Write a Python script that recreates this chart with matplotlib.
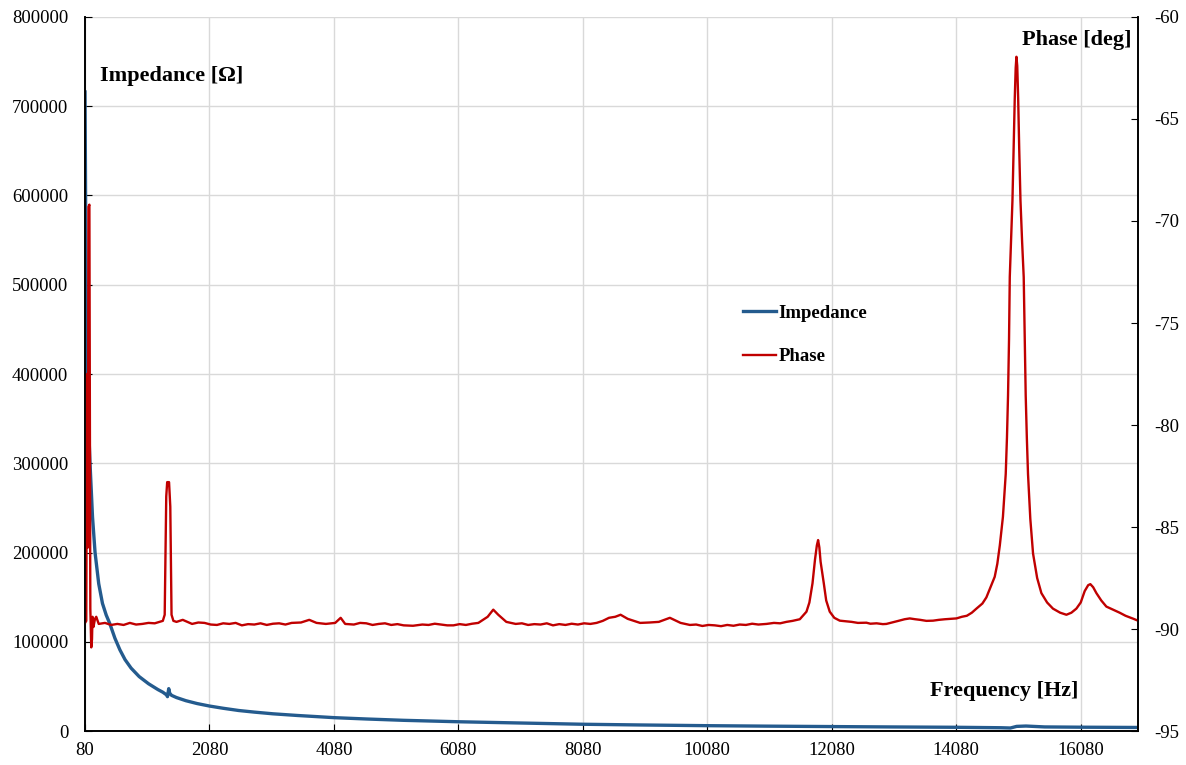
import matplotlib
matplotlib.use("Agg")
import matplotlib.pyplot as plt

plt.rcParams["font.family"] = ["Liberation Serif", "DejaVu Serif"]
plt.rcParams["axes.unicode_minus"] = False

# impedance curve
imp_freq = [80, 90, 100, 115, 135, 160, 200, 241, 300, 360, 420, 480, 560,
            640, 723, 820, 950, 1100, 1250, 1330, 1390, 1405, 1425, 1440,
            1470, 1550, 1700, 1880, 2080, 2300, 2550, 2800, 3100, 3500, 4080,
            4600, 5200, 6080, 7000, 8080, 9000, 10080, 11000, 12080, 13000,
            14080, 14800, 14950, 15050, 15200, 15500, 16080, 17000]
impedance = [716000, 580000, 480000, 400000, 345000, 300000, 240000, 200000,
             165000, 143000, 130000, 120000, 104000, 91000, 80000, 70500,
             61000, 53000, 46500, 43500, 40500, 38500, 47500, 42500, 40000,
             37500, 34000, 30800, 28000, 25500, 23000, 21200, 19300, 17400,
             15000, 13500, 12000, 10400, 9100, 7600, 6800, 6000, 5500, 5000,
             4600, 4200, 3700, 3400, 5200, 5600, 4600, 4300, 4000]

# phase curve, (Hz, deg)
phase_points = [
    (80, -89.7), (100, -89.6), (112, -77.5), (120, -80.0), (128, -86.0),
    (135, -69.3), (150, -69.2), (165, -89.0), (180, -90.9), (192, -90.5),
    (200, -89.4), (215, -89.9), (240, -89.5), (260, -89.4), (300, -89.75),
    (400, -89.7), (500, -89.8), (600, -89.75), (700, -89.8), (800, -89.7),
    (900, -89.78), (1000, -89.75), (1100, -89.7), (1200, -89.72),
    (1330, -89.6), (1360, -89.3), (1385, -83.5), (1400, -82.8),
    (1430, -82.8), (1450, -84.0), (1470, -89.3), (1500, -89.6),
    (1550, -89.65), (1650, -89.55), (1800, -89.75), (1900, -89.68),
    (2000, -89.7), (2100, -89.78), (2200, -89.8), (2300, -89.72),
    (2400, -89.75), (2500, -89.7), (2600, -89.82), (2700, -89.76),
    (2800, -89.78), (2900, -89.72), (3000, -89.8), (3100, -89.74),
    (3200, -89.72), (3300, -89.78), (3400, -89.7), (3550, -89.68),
    (3683, -89.55), (3800, -89.7), (3950, -89.75), (4100, -89.7),
    (4188, -89.45), (4260, -89.75), (4400, -89.78), (4500, -89.7),
    (4600, -89.72), (4700, -89.8), (4800, -89.75), (4900, -89.72),
    (5000, -89.8), (5100, -89.76), (5200, -89.82), (5350, -89.84),
    (5500, -89.78), (5600, -89.8), (5700, -89.74), (5800, -89.78),
    (5900, -89.82), (6000, -89.82), (6100, -89.76), (6200, -89.8),
    (6300, -89.74), (6400, -89.7), (6550, -89.4), (6640, -89.05),
    (6720, -89.3), (6850, -89.65), (7000, -89.75), (7100, -89.72),
    (7200, -89.8), (7300, -89.76), (7400, -89.78), (7500, -89.72),
    (7600, -89.82), (7700, -89.76), (7800, -89.8), (7900, -89.74),
    (8000, -89.78), (8100, -89.72), (8200, -89.75), (8300, -89.7),
    (8400, -89.6), (8500, -89.45), (8600, -89.4), (8686, -89.3),
    (8800, -89.5), (9000, -89.7), (9150, -89.68), (9300, -89.65),
    (9478, -89.45), (9650, -89.7), (9800, -89.8), (9900, -89.78),
    (10000, -89.85), (10100, -89.8), (10200, -89.82), (10300, -89.86),
    (10400, -89.8), (10500, -89.84), (10600, -89.78), (10700, -89.8),
    (10800, -89.74), (10900, -89.78), (11030, -89.75), (11150, -89.7),
    (11250, -89.72), (11350, -89.65), (11450, -89.6), (11566, -89.52),
    (11673, -89.15), (11720, -88.7), (11770, -87.76), (11810, -86.6),
    (11840, -85.9), (11860, -85.64), (11880, -86.0), (11900, -86.7),
    (11951, -87.75), (11990, -88.6), (12047, -89.15), (12120, -89.45),
    (12208, -89.59), (12300, -89.62), (12400, -89.65), (12500, -89.7),
    (12636, -89.69), (12700, -89.74), (12800, -89.72), (12900, -89.76),
    (12957, -89.75), (13050, -89.68), (13150, -89.6), (13250, -89.52),
    (13333, -89.48), (13420, -89.52), (13500, -89.55), (13600, -89.6),
    (13707, -89.59), (13800, -89.55), (13900, -89.52), (14000, -89.5),
    (14083, -89.48), (14170, -89.4), (14250, -89.35), (14330, -89.2),
    (14404, -89.0), (14500, -88.75), (14564, -88.45), (14650, -87.8),
    (14698, -87.44), (14740, -86.8), (14780, -85.9), (14830, -84.5),
    (14875, -82.4), (14895, -80.6), (14912, -78.55), (14928, -75.8),
    (14940, -72.75), (14962, -70.8), (14983, -69.0), (15005, -66.0),
    (15020, -64.0), (15035, -62.5), (15047, -61.95), (15060, -62.4),
    (15075, -64.0), (15092, -66.5), (15112, -69.0), (15138, -71.0),
    (15164, -72.75), (15180, -75.8), (15196, -78.55), (15214, -80.6),
    (15233, -82.4), (15270, -84.6), (15314, -86.3), (15380, -87.5),
    (15448, -88.24), (15540, -88.7), (15634, -89.0), (15750, -89.2),
    (15850, -89.3), (15930, -89.2), (16010, -89.0), (16080, -88.7),
    (16144, -88.14), (16200, -87.85), (16235, -87.8), (16280, -87.95),
    (16332, -88.24), (16410, -88.6), (16492, -88.9), (16600, -89.05),
    (16706, -89.2), (16800, -89.35), (16920, -89.49), (17000, -89.59),
]
ph_freq = [p[0] for p in phase_points]
phase = [p[1] for p in phase_points]

x_ticks = [80, 2080, 4080, 6080, 8080, 10080, 12080, 14080, 16080]
imp_ticks = [0, 100000, 200000, 300000, 400000, 500000, 600000, 700000, 800000]
phase_ticks = [-95, -90, -85, -80, -75, -70, -65, -60]

blue = "#245B8E"
red = "#C00000"

fig = plt.figure(figsize=(11.86, 7.65), dpi=100)
ax1 = fig.add_axes([0.0717, 0.0444, 0.8878, 0.9334])
ax2 = ax1.twinx()

l1, = ax1.plot(imp_freq, impedance, color=blue, lw=2.4, label="Impedance")
l2, = ax2.plot(ph_freq, phase, color=red, lw=1.7, label="Phase")

ax1.set_xlim(80, 17000)
ax1.set_ylim(0, 800000)
ax2.set_ylim(-95, -60)
ax1.set_xticks(x_ticks)
ax1.set_yticks(imp_ticks)
ax2.set_yticks(phase_ticks)

ax1.grid(True, color="#D9D9D9", lw=1)
ax1.set_axisbelow(True)

for ax in (ax1, ax2):
    ax.spines["top"].set_visible(False)
    for s in ("left", "right", "bottom"):
        ax.spines[s].set_linewidth(1.2)
ax1.tick_params(axis="both", direction="in", length=5, labelsize=13.5)
ax1.tick_params(axis="y", pad=12)
ax1.tick_params(axis="x", pad=8)
ax2.tick_params(axis="y", direction="in", length=5, labelsize=13.5, pad=12)

ax1.text(0.0142, 0.917, "Impedance [Ω]", transform=ax1.transAxes,
         fontsize=16, fontweight="bold", ha="left", va="center")
ax1.text(0.994, 0.968, "Phase [deg]", transform=ax1.transAxes,
         fontsize=16, fontweight="bold", ha="right", va="center")
ax1.text(0.943, 0.056, "Frequency [Hz]", transform=ax1.transAxes,
         fontsize=16, fontweight="bold", ha="right", va="center")

leg = ax2.legend(handles=[l1, l2], loc="upper left",
                 bbox_to_anchor=(0.625, 0.597), frameon=False,
                 borderaxespad=0, borderpad=0, handlelength=1.75,
                 handletextpad=0.15, labelspacing=1.4,
                 prop={"size": 13.5, "weight": "bold"})

fig.savefig("out.png", dpi=100)
